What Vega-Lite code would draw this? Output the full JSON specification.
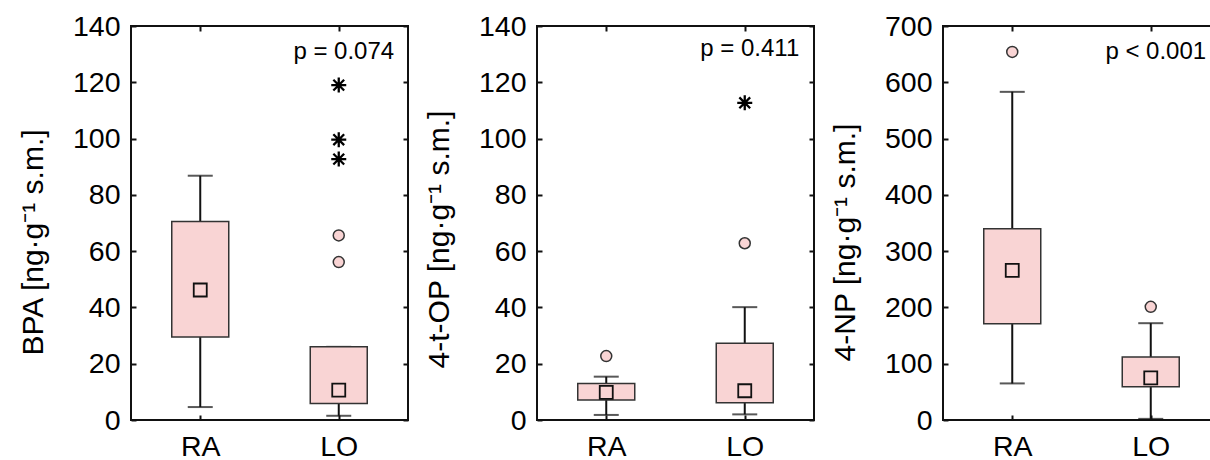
{
  "$schema": "https://vega.github.io/schema/vega-lite/v6.json",
  "background": "white",
  "padding": {"left": 17, "top": 11, "right": 0, "bottom": 0},
  "bounds": "flush",
  "spacing": 129,
  "config": {
    "font": "Liberation Sans",
    "view": {"stroke": "#111", "strokeWidth": 2},
    "axis": {
      "labelFont": "Liberation Sans", "labelFontSize": 28.5, "labelColor": "#000",
      "titleFont": "Liberation Sans", "titleFontSize": 30, "titleFontWeight": "normal", "titleColor": "#000",
      "domain": false, "grid": false, "tickColor": "#111", "tickWidth": 2, "tickSize": -5
    }
  },
  "datasets": {
    "boxes": [
      {"panel": "BPA", "group": "RA", "lo": 4.6, "q1": 29.5, "med": 46.2, "q3": 70.5, "hi": 86.8},
      {"panel": "BPA", "group": "LO", "lo": 1.5, "q1": 5.9, "med": 10.6, "q3": 26.0, "hi": 26.0},
      {"panel": "OP", "group": "RA", "lo": 1.8, "q1": 7.1, "med": 9.8, "q3": 13.0, "hi": 15.4},
      {"panel": "OP", "group": "LO", "lo": 2.0, "q1": 6.1, "med": 10.4, "q3": 27.3, "hi": 40.1},
      {"panel": "NP", "group": "RA", "lo": 65, "q1": 171, "med": 266, "q3": 340, "hi": 583},
      {"panel": "NP", "group": "LO", "lo": 2, "q1": 59, "med": 75, "q3": 112, "hi": 172}
    ],
    "outliers": [
      {"panel": "BPA", "group": "LO", "kind": "circle", "value": 65.6},
      {"panel": "BPA", "group": "LO", "kind": "circle", "value": 56.1},
      {"panel": "BPA", "group": "LO", "kind": "star", "value": 119},
      {"panel": "BPA", "group": "LO", "kind": "star", "value": 99.6},
      {"panel": "BPA", "group": "LO", "kind": "star", "value": 92.7},
      {"panel": "OP", "group": "RA", "kind": "circle", "value": 22.7},
      {"panel": "OP", "group": "LO", "kind": "circle", "value": 62.8},
      {"panel": "OP", "group": "LO", "kind": "star", "value": 112.7},
      {"panel": "NP", "group": "RA", "kind": "circle", "value": 654},
      {"panel": "NP", "group": "LO", "kind": "circle", "value": 201}
    ],
    "pvals": [
      {"panel": "BPA", "group": "LO", "y": 130.8, "label": "p = 0.074"},
      {"panel": "OP", "group": "LO", "y": 132, "label": "p = 0.411"},
      {"panel": "NP", "group": "LO", "y": 654, "label": "p < 0.001"}
    ]
  },
  "hconcat": [
    {
      "width": 277, "height": 394,
      "resolve": {"axis": {"x": "independent", "y": "independent"}},
      "layer": [
        {"data": {"name": "boxes"}, "transform": [{"filter": "datum.panel === 'BPA'"}],
         "mark": {"type": "rule", "color": "#111", "strokeWidth": 2},
         "encoding": {
           "x": {"field": "group", "type": "nominal", "scale": {"type": "point", "padding": 0.5, "domain": ["RA", "LO"]},
                 "axis": {"orient": "bottom", "title": null, "labelAngle": 0, "labelPadding": 17}},
           "y": {"field": "lo", "type": "quantitative", "scale": {"domain": [0, 140], "nice": false},
                 "axis": {"orient": "left", "values": [0, 20, 40, 60, 80, 100, 120, 140], "labelPadding": 16,
                          "title": "BPA [ng·g⁻¹ s.m.]", "titleAngle": -90, "titleX": -89, "titleY": 216, "titleAlign": "center", "titleBaseline": "alphabetic"}},
           "y2": {"field": "hi"}}},
        {"data": {"name": "boxes"}, "transform": [{"filter": "datum.panel === 'BPA'"}],
         "mark": {"type": "tick", "color": "#111", "thickness": 2, "size": 25},
         "encoding": {
           "x": {"field": "group", "type": "nominal", "axis": {"orient": "top", "labels": false, "title": null}},
           "y": {"field": "lo", "type": "quantitative", "axis": {"orient": "right", "labels": false, "title": null, "values": [0, 20, 40, 60, 80, 100, 120, 140]}}}},
        {"data": {"name": "boxes"}, "transform": [{"filter": "datum.panel === 'BPA'"}],
         "mark": {"type": "tick", "color": "#111", "thickness": 2, "size": 25},
         "encoding": {
           "x": {"field": "group", "type": "nominal", "axis": null},
           "y": {"field": "hi", "type": "quantitative", "axis": null}}},
        {"data": {"name": "boxes"}, "transform": [{"filter": "datum.panel === 'BPA'"}],
         "mark": {"type": "bar", "size": 57, "fill": "#f9d4d4", "stroke": "#333", "strokeWidth": 1.5},
         "encoding": {
           "x": {"field": "group", "type": "nominal", "axis": null},
           "y": {"field": "q1", "type": "quantitative", "axis": null},
           "y2": {"field": "q3"}}},
        {"data": {"name": "boxes"}, "transform": [{"filter": "datum.panel === 'BPA'"}],
         "mark": {"type": "point", "shape": "square", "filled": false, "size": 169, "stroke": "#111", "strokeWidth": 1.8, "opacity": 1},
         "encoding": {
           "x": {"field": "group", "type": "nominal", "axis": null},
           "y": {"field": "med", "type": "quantitative", "axis": null}}},
        {"data": {"name": "outliers"}, "transform": [{"filter": "datum.panel === 'BPA' && datum.kind === 'circle'"}],
         "mark": {"type": "point", "shape": "circle", "filled": true, "size": 121, "fill": "#f9d4d4", "stroke": "#333", "strokeWidth": 1.5, "opacity": 1},
         "encoding": {
           "x": {"field": "group", "type": "nominal", "axis": null},
           "y": {"field": "value", "type": "quantitative", "axis": null}}},
        {"data": {"name": "outliers"}, "transform": [{"filter": "datum.panel === 'BPA' && datum.kind === 'star'"}],
         "mark": {"type": "point", "shape": "M-1,0L1,0M0,-1L0,1M-0.72,-0.72L0.72,0.72M-0.72,0.72L0.72,-0.72", "filled": false, "size": 225, "stroke": "#000", "strokeWidth": 2.3, "opacity": 1},
         "encoding": {
           "x": {"field": "group", "type": "nominal", "axis": null},
           "y": {"field": "value", "type": "quantitative", "axis": null}}},
        {"data": {"name": "pvals"}, "transform": [{"filter": "datum.panel === 'BPA'"}],
         "mark": {"type": "text", "font": "Liberation Sans", "fontSize": 24, "color": "#000", "align": "center", "baseline": "middle", "dx": 5},
         "encoding": {
           "x": {"field": "group", "type": "nominal", "axis": null},
           "y": {"field": "y", "type": "quantitative", "axis": null},
           "text": {"field": "label"}}}
      ]
    },
    {
      "width": 277, "height": 394,
      "resolve": {"axis": {"x": "independent", "y": "independent"}},
      "layer": [
        {"data": {"name": "boxes"}, "transform": [{"filter": "datum.panel === 'OP'"}],
         "mark": {"type": "rule", "color": "#111", "strokeWidth": 2},
         "encoding": {
           "x": {"field": "group", "type": "nominal", "scale": {"type": "point", "padding": 0.5, "domain": ["RA", "LO"]},
                 "axis": {"orient": "bottom", "title": null, "labelAngle": 0, "labelPadding": 17}},
           "y": {"field": "lo", "type": "quantitative", "scale": {"domain": [0, 140], "nice": false},
                 "axis": {"orient": "left", "values": [0, 20, 40, 60, 80, 100, 120, 140], "labelPadding": 16,
                          "title": "4-t-OP [ng·g⁻¹ s.m.]", "titleAngle": -90, "titleX": -89, "titleY": 213, "titleAlign": "center", "titleBaseline": "alphabetic"}},
           "y2": {"field": "hi"}}},
        {"data": {"name": "boxes"}, "transform": [{"filter": "datum.panel === 'OP'"}],
         "mark": {"type": "tick", "color": "#111", "thickness": 2, "size": 25},
         "encoding": {
           "x": {"field": "group", "type": "nominal", "axis": {"orient": "top", "labels": false, "title": null}},
           "y": {"field": "lo", "type": "quantitative", "axis": {"orient": "right", "labels": false, "title": null, "values": [0, 20, 40, 60, 80, 100, 120, 140]}}}},
        {"data": {"name": "boxes"}, "transform": [{"filter": "datum.panel === 'OP'"}],
         "mark": {"type": "tick", "color": "#111", "thickness": 2, "size": 25},
         "encoding": {
           "x": {"field": "group", "type": "nominal", "axis": null},
           "y": {"field": "hi", "type": "quantitative", "axis": null}}},
        {"data": {"name": "boxes"}, "transform": [{"filter": "datum.panel === 'OP'"}],
         "mark": {"type": "bar", "size": 57, "fill": "#f9d4d4", "stroke": "#333", "strokeWidth": 1.5},
         "encoding": {
           "x": {"field": "group", "type": "nominal", "axis": null},
           "y": {"field": "q1", "type": "quantitative", "axis": null},
           "y2": {"field": "q3"}}},
        {"data": {"name": "boxes"}, "transform": [{"filter": "datum.panel === 'OP'"}],
         "mark": {"type": "point", "shape": "square", "filled": false, "size": 169, "stroke": "#111", "strokeWidth": 1.8, "opacity": 1},
         "encoding": {
           "x": {"field": "group", "type": "nominal", "axis": null},
           "y": {"field": "med", "type": "quantitative", "axis": null}}},
        {"data": {"name": "outliers"}, "transform": [{"filter": "datum.panel === 'OP' && datum.kind === 'circle'"}],
         "mark": {"type": "point", "shape": "circle", "filled": true, "size": 121, "fill": "#f9d4d4", "stroke": "#333", "strokeWidth": 1.5, "opacity": 1},
         "encoding": {
           "x": {"field": "group", "type": "nominal", "axis": null},
           "y": {"field": "value", "type": "quantitative", "axis": null}}},
        {"data": {"name": "outliers"}, "transform": [{"filter": "datum.panel === 'OP' && datum.kind === 'star'"}],
         "mark": {"type": "point", "shape": "M-1,0L1,0M0,-1L0,1M-0.72,-0.72L0.72,0.72M-0.72,0.72L0.72,-0.72", "filled": false, "size": 225, "stroke": "#000", "strokeWidth": 2.3, "opacity": 1},
         "encoding": {
           "x": {"field": "group", "type": "nominal", "axis": null},
           "y": {"field": "value", "type": "quantitative", "axis": null}}},
        {"data": {"name": "pvals"}, "transform": [{"filter": "datum.panel === 'OP'"}],
         "mark": {"type": "text", "font": "Liberation Sans", "fontSize": 24, "color": "#000", "align": "center", "baseline": "middle", "dx": 5},
         "encoding": {
           "x": {"field": "group", "type": "nominal", "axis": null},
           "y": {"field": "y", "type": "quantitative", "axis": null},
           "text": {"field": "label"}}}
      ]
    },
    {
      "width": 277, "height": 394,
      "resolve": {"axis": {"x": "independent", "y": "independent"}},
      "layer": [
        {"data": {"name": "boxes"}, "transform": [{"filter": "datum.panel === 'NP'"}],
         "mark": {"type": "rule", "color": "#111", "strokeWidth": 2},
         "encoding": {
           "x": {"field": "group", "type": "nominal", "scale": {"type": "point", "padding": 0.5, "domain": ["RA", "LO"]},
                 "axis": {"orient": "bottom", "title": null, "labelAngle": 0, "labelPadding": 17}},
           "y": {"field": "lo", "type": "quantitative", "scale": {"domain": [0, 700], "nice": false},
                 "axis": {"orient": "left", "values": [0, 100, 200, 300, 400, 500, 600, 700], "labelPadding": 16,
                          "title": "4-NP [ng·g⁻¹ s.m.]", "titleAngle": -90, "titleX": -89, "titleY": 216, "titleAlign": "center", "titleBaseline": "alphabetic"}},
           "y2": {"field": "hi"}}},
        {"data": {"name": "boxes"}, "transform": [{"filter": "datum.panel === 'NP'"}],
         "mark": {"type": "tick", "color": "#111", "thickness": 2, "size": 25},
         "encoding": {
           "x": {"field": "group", "type": "nominal", "axis": {"orient": "top", "labels": false, "title": null}},
           "y": {"field": "lo", "type": "quantitative", "axis": {"orient": "right", "labels": false, "title": null, "values": [0, 100, 200, 300, 400, 500, 600, 700]}}}},
        {"data": {"name": "boxes"}, "transform": [{"filter": "datum.panel === 'NP'"}],
         "mark": {"type": "tick", "color": "#111", "thickness": 2, "size": 25},
         "encoding": {
           "x": {"field": "group", "type": "nominal", "axis": null},
           "y": {"field": "hi", "type": "quantitative", "axis": null}}},
        {"data": {"name": "boxes"}, "transform": [{"filter": "datum.panel === 'NP'"}],
         "mark": {"type": "bar", "size": 57, "fill": "#f9d4d4", "stroke": "#333", "strokeWidth": 1.5},
         "encoding": {
           "x": {"field": "group", "type": "nominal", "axis": null},
           "y": {"field": "q1", "type": "quantitative", "axis": null},
           "y2": {"field": "q3"}}},
        {"data": {"name": "boxes"}, "transform": [{"filter": "datum.panel === 'NP'"}],
         "mark": {"type": "point", "shape": "square", "filled": false, "size": 169, "stroke": "#111", "strokeWidth": 1.8, "opacity": 1},
         "encoding": {
           "x": {"field": "group", "type": "nominal", "axis": null},
           "y": {"field": "med", "type": "quantitative", "axis": null}}},
        {"data": {"name": "outliers"}, "transform": [{"filter": "datum.panel === 'NP' && datum.kind === 'circle'"}],
         "mark": {"type": "point", "shape": "circle", "filled": true, "size": 121, "fill": "#f9d4d4", "stroke": "#333", "strokeWidth": 1.5, "opacity": 1},
         "encoding": {
           "x": {"field": "group", "type": "nominal", "axis": null},
           "y": {"field": "value", "type": "quantitative", "axis": null}}},
        {"data": {"name": "pvals"}, "transform": [{"filter": "datum.panel === 'NP'"}],
         "mark": {"type": "text", "font": "Liberation Sans", "fontSize": 24, "color": "#000", "align": "center", "baseline": "middle", "dx": 5},
         "encoding": {
           "x": {"field": "group", "type": "nominal", "axis": null},
           "y": {"field": "y", "type": "quantitative", "axis": null},
           "text": {"field": "label"}}}
      ]
    }
  ]
}
